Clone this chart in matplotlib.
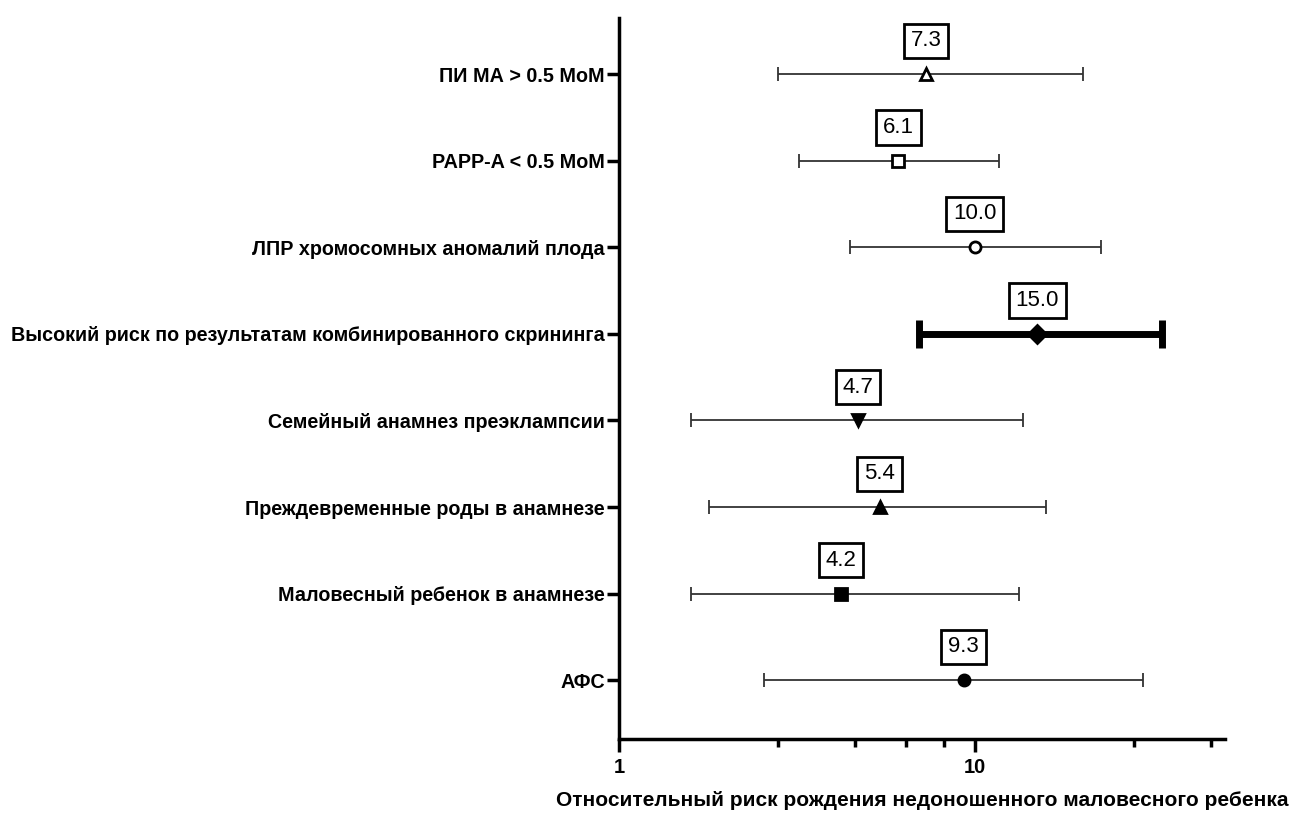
import matplotlib.pyplot as plt
from matplotlib.ticker import FixedLocator, NullFormatter

plt.rcParams['font.family'] = ['Liberation Sans', 'DejaVu Sans']

# rows from bottom (y=0) to top
labels = [
    "АФС",
    "Маловесный ребенок в анамнезе",
    "Преждевременные роды в анамнезе",
    "Семейный анамнез преэклампсии",
    "Высокий риск по результатам комбинированного скрининга",
    "ЛПР хромосомных аномалий плода",
    "PAPP-A < 0.5 MoM",
    "ПИ МА > 0.5 МоМ",
]
rr = [9.3, 4.2, 5.4, 4.7, 15.0, 10.0, 6.1, 7.3]
ci_low = [2.55, 1.59, 1.79, 1.59, 6.95, 4.45, 3.2, 2.8]
ci_high = [29.7, 13.3, 15.9, 13.7, 33.6, 22.6, 11.7, 20.2]
markers = ["o", "s", "^", "v", "D", "o", "s", "^"]
filled = [True, True, True, True, True, False, False, False]

fig = plt.figure(figsize=(13.02, 8.14), dpi=100)
ax = fig.add_axes([0.4754, 0.0921, 0.4654, 0.8859])

for i in range(len(labels)):
    bold = i == 4
    ax.errorbar(rr[i], i, xerr=[[rr[i] - ci_low[i]], [ci_high[i] - rr[i]]],
                fmt="none", ecolor="black" if bold else "#333333",
                elinewidth=5 if bold else 1.3, capsize=10 if bold else 5,
                capthick=5 if bold else 1.3, zorder=2)
    ax.plot(rr[i], i, marker=markers[i], linestyle="none",
            markersize=8 if markers[i] != "D" else 9,
            markerfacecolor="black" if filled[i] else "white",
            markeredgecolor="black", markeredgewidth=2, zorder=3)
    ax.annotate(f"{rr[i]:.1f}", (rr[i], i), xytext=(0, 24), textcoords="offset points",
                ha="center", va="center", fontsize=16,
                bbox=dict(boxstyle="square,pad=0.3", fc="white", ec="black", lw=2))

ax.set_xscale("log")
ax.set_xlim(1, 50.5)
ax.set_ylim(-0.68, 7.65)

ax.xaxis.set_major_locator(FixedLocator([1, 10]))
ax.xaxis.set_minor_locator(FixedLocator([2.8, 4.6, 6.4, 8.2, 28, 46]))
ax.xaxis.set_minor_formatter(NullFormatter())
ax.set_xticklabels(["1", "10"], fontsize=14.5, fontweight="bold")
ax.set_yticks(range(len(labels)))
ax.set_yticklabels(labels, fontsize=14.2, fontweight="bold")

ax.tick_params(axis="x", which="major", length=9, width=2.5, pad=5)
ax.tick_params(axis="x", which="minor", length=6, width=2.5)
ax.tick_params(axis="y", length=9, width=2.5, pad=1)

for side in ["top", "right"]:
    ax.spines[side].set_visible(False)
for side in ["left", "bottom"]:
    ax.spines[side].set_linewidth(2.5)

ax.set_xlabel("Относительный риск рождения недоношенного маловесного ребенка",
              fontsize=15, fontweight="bold", labelpad=10)

fig.savefig("out.png", dpi=100)
